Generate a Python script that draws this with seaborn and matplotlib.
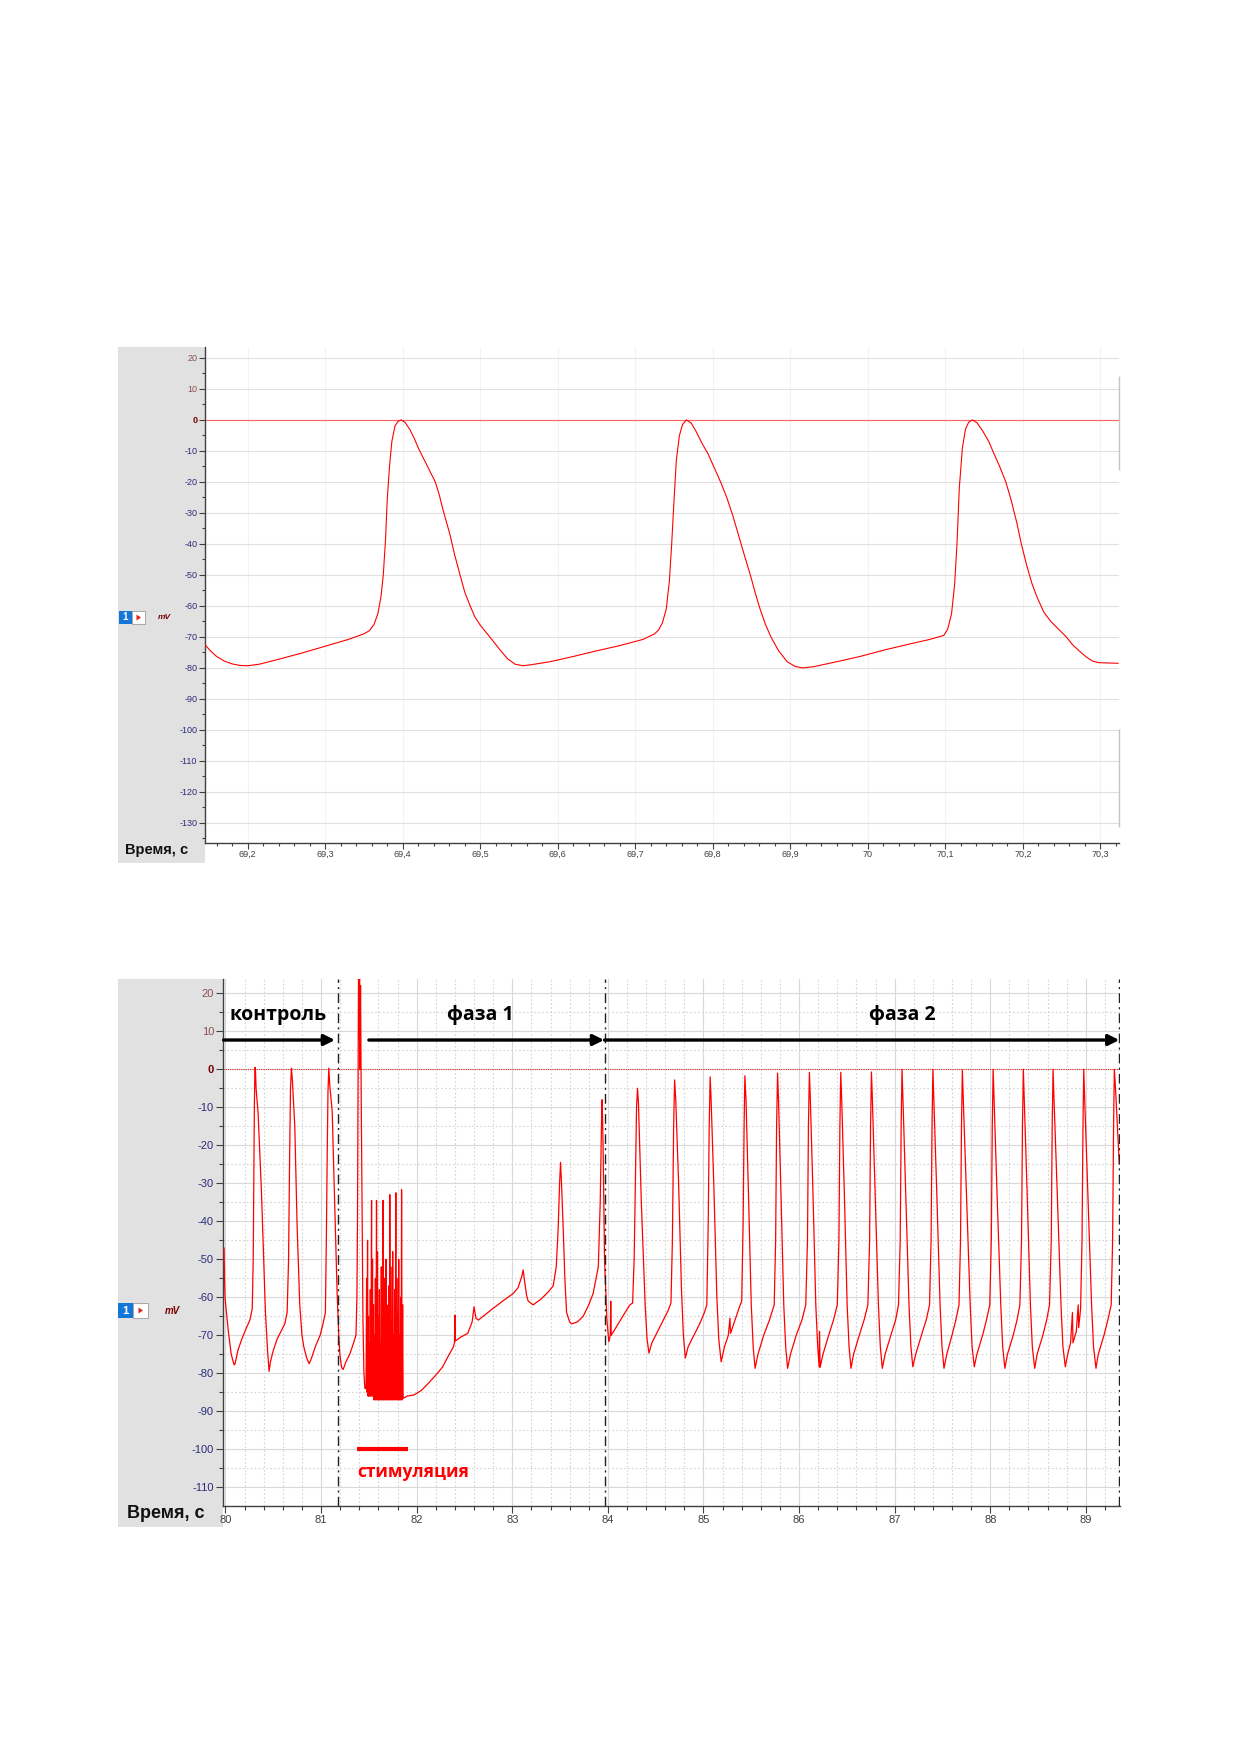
import numpy as np
import pandas as pd
import seaborn as sns
import matplotlib.pyplot as plt
from matplotlib.patches import Rectangle, Polygon
from matplotlib.ticker import MultipleLocator

# ---------------- data ----------------
# upper record: three action potentials, time (s) / potential (mV)
top_trace = [
    (69.145, -72.5), (69.152, -74.5), (69.160, -76.3), (69.170, -77.8), (69.180, -78.7),
    (69.190, -79.2), (69.200, -79.3), (69.215, -78.8), (69.240, -77.2), (69.270, -75.2),
    (69.300, -73.0), (69.330, -70.8), (69.350, -69.0), (69.357, -68.0), (69.363, -66.0),
    (69.368, -62.5), (69.372, -57.0), (69.375, -50.0), (69.378, -38.0), (69.380, -26.0),
    (69.383, -15.0), (69.386, -7.0), (69.390, -2.0), (69.394, -0.5), (69.398, 0.0),
    (69.403, -0.8), (69.409, -3.0), (69.415, -6.0), (69.420, -9.0), (69.427, -12.5),
    (69.433, -15.5), (69.442, -20.0), (69.447, -24.0), (69.452, -29.0), (69.461, -37.0),
    (69.467, -43.5), (69.474, -50.0), (69.480, -55.5), (69.487, -60.0), (69.493, -63.5),
    (69.500, -66.2), (69.513, -70.2), (69.525, -74.0), (69.535, -77.0), (69.545, -78.8),
    (69.555, -79.3), (69.565, -79.0), (69.590, -78.0), (69.620, -76.3), (69.650, -74.5),
    (69.680, -72.8), (69.710, -70.8), (69.725, -69.0), (69.730, -67.8), (69.735, -65.5),
    (69.740, -61.0), (69.744, -52.0), (69.747, -40.0), (69.750, -26.0), (69.753, -13.0),
    (69.757, -5.0), (69.761, -1.5), (69.766, 0.0), (69.772, -1.0), (69.778, -3.5),
    (69.786, -7.5), (69.794, -11.0), (69.802, -15.5), (69.810, -20.0), (69.818, -25.0),
    (69.826, -31.0), (69.833, -37.0), (69.840, -43.0), (69.849, -50.5), (69.855, -56.0),
    (69.861, -61.0), (69.868, -66.0), (69.875, -70.0), (69.885, -74.5), (69.896, -78.0),
    (69.906, -79.5), (69.916, -80.0), (69.930, -79.6), (69.960, -78.0), (69.990, -76.3),
    (70.020, -74.3), (70.050, -72.5), (70.080, -70.8), (70.098, -69.5), (70.103, -67.5),
    (70.108, -62.5), (70.112, -53.0), (70.115, -40.0), (70.118, -22.0), (70.122, -9.0),
    (70.126, -3.0), (70.130, -0.8), (70.135, 0.0), (70.141, -1.0), (70.148, -3.5),
    (70.156, -7.0), (70.162, -10.5), (70.170, -15.0), (70.178, -20.0), (70.185, -26.0),
    (70.192, -33.0), (70.198, -40.0), (70.205, -47.0), (70.212, -53.0), (70.218, -57.0),
    (70.227, -62.0), (70.236, -65.0), (70.246, -67.5), (70.256, -70.0), (70.264, -72.5),
    (70.274, -74.8), (70.282, -76.5), (70.290, -77.8), (70.298, -78.3), (70.310, -78.4),
    (70.323, -78.5),
]

# lower record, control part (three spontaneous spikes, then the first evoked spike)
ctrl_trace = [
    (79.985, -47), (79.990, -55), (79.995, -60), (80.010, -64), (80.030, -69), (80.060, -75),
    (80.090, -77.8), (80.100, -77.5), (80.130, -74), (80.170, -71), (80.220, -68), (80.255, -66),
    (80.280, -63), (80.290, -50), (80.296, -30), (80.302, -10), (80.308, 0.5), (80.313, 0.3),
    (80.320, -5), (80.341, -11.5), (80.376, -32), (80.400, -50), (80.418, -64), (80.440, -74),
    (80.456, -79.5), (80.470, -77), (80.500, -74), (80.540, -71), (80.580, -69), (80.620, -67),
    (80.645, -64), (80.660, -50), (80.670, -25), (80.680, -5), (80.690, 0.3), (80.700, -3),
    (80.725, -15), (80.749, -41), (80.777, -62), (80.800, -70), (80.819, -73), (80.850, -76),
    (80.875, -77.5), (80.900, -76), (80.940, -73), (80.990, -70), (81.020, -67), (81.045, -64),
    (81.055, -45), (81.063, -25), (81.072, -6), (81.081, 0.3), (81.090, -4), (81.116, -11),
    (81.144, -37), (81.168, -59), (81.185, -70), (81.196, -75), (81.215, -78.5), (81.231, -79),
    (81.260, -77), (81.300, -75), (81.340, -72), (81.365, -70), (81.375, -60), (81.381, -39),
    (81.387, -5), (81.392, 26), (81.396, 15), (81.398, 8), (81.400, 20), (81.403, 26),
    (81.406, 5), (81.408, 0), (81.411, 18), (81.413, 22), (81.417, 2), (81.420, -8),
    (81.425, -25), (81.428, -39), (81.433, -55), (81.438, -66), (81.448, -80), (81.458, -84),
]

# stimulation burst
burst_trace = [
    (81.470, -84), (81.476, -55), (81.481, -85), (81.486, -45), (81.491, -86), (81.496, -65),
    (81.500, -86), (81.505, -72), (81.510, -86), (81.515, -58), (81.520, -86), (81.528, -34.5),
    (81.533, -86), (81.538, -50), (81.543, -86), (81.548, -62), (81.553, -87), (81.558, -70),
    (81.563, -87), (81.568, -55), (81.573, -87), (81.580, -34.5), (81.585, -87), (81.590, -48),
    (81.595, -87), (81.600, -65), (81.605, -87), (81.610, -58), (81.615, -87), (81.620, -72),
    (81.625, -87), (81.630, -52), (81.635, -87), (81.640, -62), (81.645, -87), (81.649, -34.5),
    (81.654, -87), (81.659, -55), (81.664, -87), (81.669, -68), (81.674, -87), (81.679, -50),
    (81.684, -87), (81.689, -62), (81.694, -87), (81.699, -74), (81.704, -87), (81.709, -57),
    (81.714, -87), (81.719, -33), (81.724, -87), (81.729, -52), (81.734, -87), (81.739, -66),
    (81.744, -87), (81.749, -48), (81.754, -87), (81.759, -70), (81.764, -87), (81.769, -58),
    (81.774, -87), (81.782, -32.5), (81.787, -87), (81.792, -55), (81.797, -87), (81.802, -65),
    (81.807, -87), (81.812, -50), (81.817, -87), (81.822, -70), (81.827, -87), (81.832, -60),
    (81.837, -87), (81.842, -31.7), (81.848, -87), (81.853, -62), (81.858, -86),
]

# phase 1: slow recovery after the stimulation
phase1_trace = [
    (81.861, -86.6), (81.900, -86.0), (81.973, -85.7), (82.050, -84.5), (82.123, -82.6),
    (82.200, -80.5), (82.272, -78.3), (82.330, -75.5), (82.385, -73), (82.395, -72),
    (82.400, -64.7), (82.405, -71.5), (82.460, -70.5), (82.534, -69.5), (82.580, -66.5),
    (82.600, -62.5), (82.620, -65.5), (82.646, -66), (82.720, -64.5), (82.800, -62.9),
    (82.900, -61), (83.010, -59), (83.060, -57.5), (83.100, -54.5), (83.114, -52.8),
    (83.130, -56), (83.150, -59.5), (83.166, -61), (83.218, -62), (83.300, -60.5),
    (83.380, -58.5), (83.428, -57), (83.460, -52), (83.480, -42), (83.495, -30),
    (83.505, -24.5), (83.515, -30), (83.533, -42), (83.550, -55), (83.568, -64),
    (83.600, -66.5), (83.620, -67), (83.680, -66.5), (83.742, -65), (83.800, -62),
    (83.846, -59), (83.900, -52), (83.920, -35), (83.935, -12), (83.940, -8),
    (83.950, -20), (83.965, -50), (83.990, -66), (84.010, -71.7), (84.025, -70),
    (84.030, -61), (84.035, -70), (84.060, -69), (84.120, -66.5), (84.180, -64),
    (84.230, -62), (84.259, -61.5),
]

# phase 2: regular firing
phase2_trace = [
    (84.275, -50), (84.290, -25), (84.300, -10), (84.310, -5), (84.320, -9), (84.350, -35),
    (84.390, -62), (84.410, -71), (84.430, -74.7),
    (84.460, -72), (84.520, -69), (84.580, -66), (84.630, -63.5), (84.660, -61.5), (84.675, -45),
    (84.688, -15), (84.698, -2.8), (84.710, -8), (84.740, -30), (84.770, -58), (84.790, -70),
    (84.810, -76),
    (84.840, -73), (84.900, -70), (84.960, -67), (85.010, -64), (85.035, -62), (85.050, -40),
    (85.060, -15), (85.070, -2), (85.080, -8), (85.110, -32), (85.140, -60), (85.160, -71),
    (85.185, -77),
    (85.220, -73), (85.260, -70), (85.277, -65.5), (85.283, -69.5), (85.330, -66), (85.370, -63),
    (85.400, -61), (85.415, -40), (85.425, -15), (85.433, -1.7), (85.445, -8), (85.470, -32),
    (85.500, -62), (85.520, -73), (85.540, -78.7),
    (85.570, -75), (85.630, -70), (85.690, -66), (85.740, -62), (85.755, -45), (85.765, -15),
    (85.775, -1), (85.785, -8), (85.810, -32), (85.840, -62), (85.860, -73), (85.880, -78.7),
    (85.910, -75), (85.970, -70), (86.030, -66), (86.070, -62), (86.088, -45), (86.098, -15),
    (86.108, -0.8), (86.118, -8), (86.145, -32), (86.175, -62), (86.195, -73), (86.210, -78.3),
    (86.214, -69), (86.220, -78.5),
    (86.250, -75), (86.310, -70), (86.360, -66), (86.400, -62), (86.417, -45), (86.427, -15),
    (86.436, -0.8), (86.446, -8), (86.473, -32), (86.503, -62), (86.523, -73), (86.543, -78.7),
    (86.570, -75), (86.630, -70), (86.680, -66), (86.720, -62), (86.738, -45), (86.748, -15),
    (86.757, -0.7), (86.767, -8), (86.795, -32), (86.830, -62), (86.850, -73), (86.871, -78.7),
    (86.900, -75), (86.960, -70), (87.010, -66), (87.040, -62), (87.058, -45), (87.068, -15),
    (87.077, 0), (87.087, -8), (87.115, -32), (87.150, -62), (87.170, -73), (87.190, -78.3),
    (87.220, -75), (87.280, -70), (87.330, -66), (87.365, -62), (87.381, -45), (87.391, -15),
    (87.400, 0), (87.410, -8), (87.440, -32), (87.475, -62), (87.495, -73), (87.516, -78.7),
    (87.545, -75), (87.600, -70), (87.640, -66), (87.673, -62), (87.689, -45), (87.699, -15),
    (87.708, -0.2), (87.718, -8), (87.750, -32), (87.790, -62), (87.810, -73), (87.833, -78.3),
    (87.860, -75), (87.920, -70), (87.960, -66), (87.995, -62), (88.011, -45), (88.021, -15),
    (88.030, 0), (88.040, -8), (88.070, -32), (88.110, -62), (88.130, -73), (88.153, -78.7),
    (88.180, -75), (88.240, -70), (88.280, -66), (88.310, -62), (88.327, -45), (88.337, -15),
    (88.346, 0), (88.356, -8), (88.385, -32), (88.420, -62), (88.440, -73), (88.465, -78.7),
    (88.490, -75), (88.550, -70), (88.590, -66), (88.620, -62), (88.638, -45), (88.648, -15),
    (88.657, 0), (88.667, -8), (88.700, -32), (88.740, -62), (88.760, -73), (88.785, -78.3),
    (88.810, -75), (88.840, -72), (88.860, -64), (88.865, -72), (88.900, -69), (88.920, -62),
    (88.925, -68), (88.945, -63), (88.960, -45), (88.970, -15), (88.978, 0), (88.988, -8),
    (89.020, -32), (89.060, -62), (89.080, -73), (89.106, -78.7),
    (89.130, -75), (89.190, -70), (89.230, -66), (89.265, -62), (89.280, -45), (89.290, -15),
    (89.298, 0), (89.310, -5), (89.330, -15), (89.350, -25),
]

phase_names = ["контроль", "фаза 1", "фаза 2"]
phase_label_x = [80.55, 82.67, 87.08]
phase_label_y = 14.2
arrow_start = [79.98, 81.50, 83.965]
arrow_end = [81.145, 83.96, 89.35]
arrow_y = 7.7
phase_bounds = [81.18, 83.965, 89.35]
stim_span = [81.38, 81.91]
stim_level = -100
stim_label = "стимуляция"
stim_label_y = -105.9
top_edge_marks = [(14.2, -16.1), (-99.8, -131.4)]

top_xticks = [69.2, 69.3, 69.4, 69.5, 69.6, 69.7, 69.8, 69.9, 70.0, 70.1, 70.2, 70.3]
top_yticks = [20, 10, 0, -10, -20, -30, -40, -50, -60, -70, -80, -90, -100, -110, -120, -130]
bot_xticks = [80, 81, 82, 83, 84, 85, 86, 87, 88, 89]
bot_yticks = [20, 10, 0, -10, -20, -30, -40, -50, -60, -70, -80, -90, -100, -110]

# ---------------- layout (pixels of the 1240x1754 page) ----------------
W, H = 1240, 1754
GRAY = "#e1e1e1"
RED = "#ff0000"


def fig_box(left, top, right, bottom):
    return [left / W, 1 - bottom / H, (right - left) / W, (bottom - top) / H]


def to_df(pairs):
    return pd.DataFrame(pairs, columns=["t", "v"])


def dec_label(v):
    return f"{v:g}".replace(".", ",")


def style_y_labels(ax, ticks, size):
    ax.set_yticks(ticks)
    ax.set_yticklabels([str(v) for v in ticks])
    for lab, v in zip(ax.get_yticklabels(), ticks):
        lab.set_fontsize(size)
        if v > 0:
            lab.set_color("#8a5050")
        elif v == 0:
            lab.set_color("#7a0000")
            lab.set_fontweight("bold")
        else:
            lab.set_color("#2b2b78")


def badge(fig, left, top, size, mv_x, mv_size):
    # little channel marker "1 >  mV" of the recording software
    h = size
    fig.add_artist(Rectangle((left / W, 1 - (top + h) / H), size / W, h / H,
                             transform=fig.transFigure, facecolor="#1477d8", edgecolor="none"))
    fig.text((left + size / 2) / W, 1 - (top + h / 2) / H, "1", color="white",
             fontsize=h * 0.55, fontweight="bold", ha="center", va="center")
    fig.add_artist(Rectangle(((left + size) / W, 1 - (top + h) / H), size / W, h / H,
                             transform=fig.transFigure, facecolor="white", edgecolor="#9a9a9a", lw=0.6))
    cx, cy = left + size * 1.5, top + h / 2
    tri = [((cx - 2) / W, 1 - (cy - 3) / H), ((cx - 2) / W, 1 - (cy + 3) / H), ((cx + 2.5) / W, 1 - cy / H)]
    fig.add_artist(Polygon(tri, closed=True, transform=fig.transFigure, facecolor="#e02020", edgecolor="none"))
    fig.text(mv_x / W, 1 - cy / H, "mV", color="#7a0000", fontsize=mv_size,
             fontweight="bold", fontstyle="italic", ha="left", va="center")


sns.set_theme(style="white")
plt.rcParams["font.family"] = ["Liberation Sans", "DejaVu Sans"]

fig = plt.figure(figsize=(12.4, 17.54), dpi=100)

# ================= upper panel =================
fig.add_artist(Rectangle((118 / W, 1 - 863 / H), (205 - 118) / W, (863 - 347) / H,
                         transform=fig.transFigure, facecolor=GRAY, edgecolor="none", zorder=-1))
ax1 = fig.add_axes(fig_box(205, 347, 1119, 842.5))
ax1.set_facecolor("white")

ax1.set_xlim(69.145, 70.324)
ax1.set_ylim(-136.3, 23.5)
ax1.grid(axis="y", which="major", color="#e0e0e0", lw=0.8)
ax1.grid(axis="x", which="major", color="#f3f3f3", lw=0.8)
ax1.axhline(0, color="#ff6060", lw=0.8, zorder=1.5)

sns.lineplot(data=to_df(top_trace), x="t", y="v", ax=ax1, sort=False, estimator=None,
             color=RED, linewidth=0.8, zorder=3)

for lo, hi in top_edge_marks:
    ax1.vlines(ax1.get_xlim()[1], hi, lo, color="#c4c4c4", lw=1.0, clip_on=False)

ax1.set_xticks(top_xticks)
ax1.set_xticklabels([dec_label(v) for v in top_xticks], fontsize=6.5, color="#404040")
ax1.xaxis.set_minor_locator(MultipleLocator(0.02))
style_y_labels(ax1, top_yticks, 6.5)
ax1.yaxis.set_minor_locator(MultipleLocator(5))

# ================= lower panel =================
fig.add_artist(Rectangle((118 / W, 1 - 1527 / H), (223 - 118) / W, (1527 - 979) / H,
                         transform=fig.transFigure, facecolor=GRAY, edgecolor="none", zorder=-1))
ax2 = fig.add_axes(fig_box(223, 979, 1119.5, 1505.7))
ax2.set_facecolor("white")

ax2.set_xlim(79.974, 89.352)
ax2.set_ylim(-114.85, 23.76)
ax2.xaxis.set_minor_locator(MultipleLocator(0.2))
ax2.yaxis.set_minor_locator(MultipleLocator(5))
ax2.grid(which="major", color="#d8d8d8", lw=0.8)
ax2.grid(which="minor", color="#d4d4d4", lw=0.8, ls=(0, (1.5, 2)))
ax2.axhline(0, color="#e03030", lw=0.8, ls=(0, (1, 1)), zorder=1.5)

bottom_df = pd.concat([to_df(ctrl_trace), to_df(burst_trace), to_df(phase1_trace), to_df(phase2_trace)],
                      ignore_index=True)
sns.lineplot(data=bottom_df, x="t", y="v", ax=ax2, sort=False, estimator=None,
             color=RED, linewidth=0.9, zorder=3)

for xb in phase_bounds:
    ax2.axvline(xb, color="#202020", lw=1.0, ls=(0, (7, 3, 1.5, 3)), zorder=4)

for name, lx, xs, xe in zip(phase_names, phase_label_x, arrow_start, arrow_end):
    ax2.annotate("", xy=(xe, arrow_y), xytext=(xs, arrow_y), annotation_clip=False,
                 arrowprops=dict(arrowstyle="-|>", lw=2.4, color="black", mutation_scale=16,
                                 shrinkA=0, shrinkB=0), zorder=5)
    ax2.text(lx, phase_label_y, name, ha="center", va="center", fontsize=14,
             fontweight="bold", family=["Open Sans", "DejaVu Sans"], color="black", zorder=5)

ax2.hlines(stim_level, stim_span[0], stim_span[1], color=RED, lw=3, zorder=5)
ax2.text(stim_span[0], stim_label_y, stim_label, ha="left", va="center", fontsize=12.5,
         fontweight="bold", family=["Open Sans", "DejaVu Sans"], color=RED, zorder=5)

ax2.set_xticks(bot_xticks)
ax2.set_xticklabels([str(v) for v in bot_xticks], fontsize=8, color="#404040")
style_y_labels(ax2, bot_yticks, 8)

# ---------------- common axis styling ----------------
for ax, big in ((ax1, 4), (ax2, 5)):
    ax.set_xlabel("")
    ax.set_ylabel("")
    for s in ("top", "right"):
        ax.spines[s].set_visible(False)
    for s in ("left", "bottom"):
        ax.spines[s].set_color("#404040")
        ax.spines[s].set_linewidth(1.0)
    ax.tick_params(axis="both", which="both", direction="out", left=True, bottom=True,
                   color="#404040", width=0.8, pad=1.5)
    ax.tick_params(which="major", length=big)
    ax.tick_params(which="minor", length=big * 0.6)

fig.text(125 / W, 1 - 850 / H, "Время, с", fontsize=10.5, fontweight="bold",
         ha="left", va="center", color="#111111")
fig.text(127 / W, 1 - 1514 / H, "Время, с", fontsize=13, fontweight="bold",
         ha="left", va="center", color="#111111")

badge(fig, 119, 611, 13, 158, 6)
badge(fig, 118, 1303, 15, 165, 7)

fig.savefig("out.png", dpi=100, facecolor="white")
